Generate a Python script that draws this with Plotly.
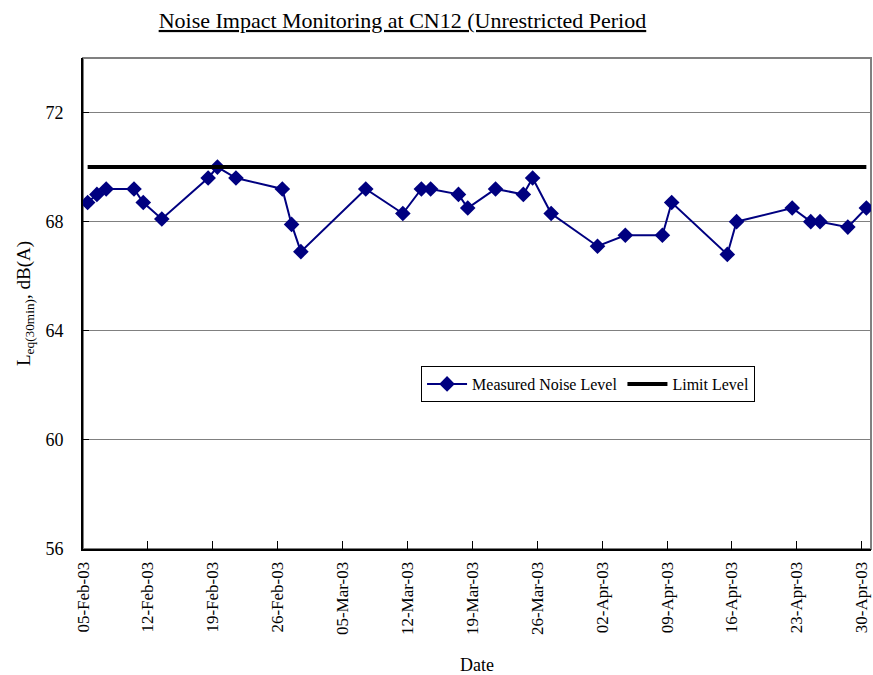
import plotly.graph_objects as go
import pandas as pd

# Measurement dates and measured noise levels
dates = ["2003-02-05", "2003-02-06", "2003-02-07", "2003-02-10", "2003-02-11", "2003-02-13",
         "2003-02-18", "2003-02-19", "2003-02-21", "2003-02-26", "2003-02-27", "2003-02-28",
         "2003-03-07", "2003-03-11", "2003-03-13", "2003-03-14", "2003-03-17", "2003-03-18",
         "2003-03-21", "2003-03-24", "2003-03-25", "2003-03-27", "2003-04-01", "2003-04-04",
         "2003-04-08", "2003-04-09", "2003-04-15", "2003-04-16", "2003-04-22", "2003-04-24",
         "2003-04-25", "2003-04-28", "2003-04-30"]
measured = [68.7, 69.0, 69.2, 69.2, 68.7, 68.1,
            69.6, 70.0, 69.6, 69.2, 67.9, 66.9,
            69.2, 68.3, 69.2, 69.2, 69.0, 68.5,
            69.2, 69.0, 69.6, 68.3, 67.1, 67.5,
            67.5, 68.7, 66.8, 68.0, 68.5, 68.0,
            68.0, 67.8, 68.5]
limit_level = 70

tick_dates = ["2003-02-05", "2003-02-12", "2003-02-19", "2003-02-26", "2003-03-05", "2003-03-12",
              "2003-03-19", "2003-03-26", "2003-04-02", "2003-04-09", "2003-04-16", "2003-04-23",
              "2003-04-30"]
y_ticks = [56, 60, 64, 68, 72]

# Points sit at mid-day (date axis with "between dates" positioning)
x_pts = pd.to_datetime(dates) + pd.Timedelta(hours=12)
tick_x = pd.to_datetime(tick_dates)
tick_text = [d.strftime("%d-%b-%y") for d in tick_x]

FONT = "Liberation Serif"
NAVY = "#000080"

fig = go.Figure()
fig.add_trace(go.Scatter(
    x=x_pts, y=measured, mode="lines+markers", name="Measured Noise Level",
    line=dict(color=NAVY, width=2),
    marker=dict(symbol="diamond", size=12, color=NAVY),
))
fig.add_trace(go.Scatter(
    x=x_pts, y=[limit_level] * len(x_pts), mode="lines", name="Limit Level",
    line=dict(color="black", width=4),
))

fig.update_layout(
    width=873, height=675,
    paper_bgcolor="white", plot_bgcolor="white",
    margin=dict(l=83, r=2, t=58, b=126, autoexpand=False),
    font=dict(family=FONT, color="black", size=15),
    title=dict(text="<u>Noise Impact Monitoring at CN12 (Unrestricted Period</u>",
               x=0.461, xanchor="center", y=0.970, yanchor="middle",
               font=dict(family=FONT, size=22, color="black")),
    showlegend=True,
    legend=dict(orientation="h", x=0.429, xanchor="left", y=0.336, yanchor="middle",
                bgcolor="white", bordercolor="black", borderwidth=1,
                font=dict(family=FONT, size=16, color="black"),
                itemwidth=40, tracegroupgap=0),
    shapes=[dict(type="rect", xref="paper", yref="paper", x0=0, x1=1, y0=0, y1=1,
                 line=dict(color="#808080", width=2), layer="below")],
)

fig.update_xaxes(
    type="date", automargin=False,
    range=[pd.Timestamp("2003-02-05"), pd.Timestamp("2003-05-01")],
    tickvals=tick_x, ticktext=tick_text, tickangle=-90,
    ticks="inside", ticklen=8, tickcolor="black", tickwidth=1,
    ticklabelstandoff=4,
    showline=True, linecolor="black", linewidth=2,
    showgrid=False, zeroline=False,
    tickfont=dict(family=FONT, size=17, color="black"),
    title=dict(text="Date", font=dict(family=FONT, size=18, color="black"), standoff=28),
)
fig.update_yaxes(
    range=[56, 74], tickvals=y_ticks, automargin=False,
    ticks="inside", ticklen=6, tickcolor="black", tickwidth=1,
    ticklabelstandoff=14,
    showline=True, linecolor="black", linewidth=2,
    showgrid=True, gridcolor="#808080", gridwidth=1, zeroline=False,
    tickfont=dict(family=FONT, size=18, color="black"),
    title=dict(text="L<sub>eq(30min)</sub>, dB(A)", font=dict(family=FONT, size=19, color="black"),
               standoff=10),
)

fig.write_html("out.html", config={"displayModeBar": False},
               post_script="document.body.style.margin='0';")
